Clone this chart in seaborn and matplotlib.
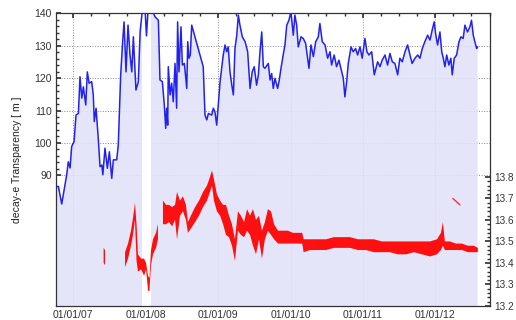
import numpy as np
import pandas as pd
import seaborn as sns
import matplotlib
matplotlib.use('Agg')
import matplotlib.pyplot as plt
import matplotlib.dates as mdates
from matplotlib.ticker import FixedLocator

#####################################################
## data
blue_dates = [
    '2006-10-11', '2006-10-19', '2006-11-05', '2006-11-17', '2006-11-30', '2006-12-08',
    '2006-12-17', '2006-12-25', '2007-01-06', '2007-01-16', '2007-01-28', '2007-02-05',
    '2007-02-14', '2007-02-22', '2007-03-06', '2007-03-14', '2007-03-23', '2007-04-05',
    '2007-04-13', '2007-04-18', '2007-04-27', '2007-05-08', '2007-05-17', '2007-05-26',
    '2007-05-31', '2007-06-11', '2007-06-23', '2007-07-03', '2007-07-15', '2007-07-23',
    '2007-08-09', '2007-08-17', '2007-08-29', '2007-09-08', '2007-09-15', '2007-09-25',
    '2007-10-05', '2007-10-15', '2007-10-24', '2007-11-01', '2007-11-14', '2007-11-26',
    '2007-12-05', '2007-12-18', '2007-12-30', '2008-01-06', '2008-01-14', '2008-02-03',
    '2008-02-18', '2008-03-06', '2008-03-14', '2008-03-26', '2008-04-05', '2008-04-12',
    '2008-04-17', '2008-04-22', '2008-04-25', '2008-05-04', '2008-05-12', '2008-05-20',
    '2008-05-29', '2008-06-06', '2008-06-11', '2008-06-18', '2008-06-28', '2008-07-05',
    '2008-07-15', '2008-07-27', '2008-08-01', '2008-08-07', '2008-08-14', '2008-08-21',
    '2008-10-18', '2008-10-27', '2008-11-05', '2008-11-13', '2008-11-30', '2008-12-08',
    '2008-12-16', '2008-12-25', '2009-01-11', '2009-01-27', '2009-02-05', '2009-02-13',
    '2009-02-21', '2009-03-02', '2009-03-11', '2009-03-19', '2009-03-27', '2009-04-05',
    '2009-04-13', '2009-04-21', '2009-05-03', '2009-05-17', '2009-05-30', '2009-06-11',
    '2009-06-22', '2009-07-02', '2009-07-14', '2009-07-23', '2009-07-31', '2009-08-09',
    '2009-08-17', '2009-08-25', '2009-09-11', '2009-09-20', '2009-09-28', '2009-10-06',
    '2009-10-15', '2009-10-28', '2009-11-04', '2009-11-14', '2009-11-25', '2009-12-04',
    '2009-12-13', '2009-12-24', '2010-01-03', '2010-01-15', '2010-01-23', '2010-02-01',
    '2010-02-09', '2010-02-23', '2010-03-06', '2010-03-18', '2010-03-28', '2010-04-04',
    '2010-04-14', '2010-04-26', '2010-05-08', '2010-05-21', '2010-05-29', '2010-06-10',
    '2010-06-24', '2010-07-07', '2010-07-19', '2010-07-27', '2010-08-09', '2010-08-21',
    '2010-09-02', '2010-09-16', '2010-09-24', '2010-10-02', '2010-10-11', '2010-10-19',
    '2010-11-02', '2010-11-13', '2010-11-25', '2010-12-05', '2010-12-17', '2010-12-28',
    '2011-01-11', '2011-01-21', '2011-01-31', '2011-02-14', '2011-02-27', '2011-03-16',
    '2011-03-28', '2011-04-08', '2011-04-22', '2011-05-05', '2011-05-17', '2011-05-29',
    '2011-06-11', '2011-06-25', '2011-07-06', '2011-07-18', '2011-08-01', '2011-08-14',
    '2011-08-26', '2011-09-06', '2011-09-20', '2011-10-04', '2011-10-15', '2011-10-27',
    '2011-11-09', '2011-11-23', '2011-12-05', '2011-12-16', '2011-12-26', '2012-01-02',
    '2012-01-12', '2012-01-24', '2012-02-02', '2012-02-10', '2012-02-18', '2012-02-27',
    '2012-03-09', '2012-03-19', '2012-03-26', '2012-04-05', '2012-04-17', '2012-04-29',
    '2012-05-09', '2012-05-20', '2012-05-29', '2012-06-11', '2012-06-23', '2012-07-01',
    '2012-07-10', '2012-07-18', '2012-07-27', '2012-08-01',
]
blue_vals = [
    86.6, 86.6, 81.2, 85.5, 90.2, 94.2,
    92.3, 98.9, 100.4, 108.6, 109.1, 120.4,
    113.8, 117.3, 111.7, 121.9, 118.4, 118.9,
    114.8, 106.6, 110.7, 101.4, 92.7, 93.2,
    90.2, 98.4, 92.2, 97.3, 89.1, 94.8,
    94.8, 99.4, 120.9, 131.2, 137.3, 121.9,
    136.3, 127.1, 121.9, 132.7, 116.3, 118.9,
    134.2, 142.0, 141.0, 133.0, 141.0, 141.0,
    138.9, 137.8, 119.4, 118.9, 111.7, 104.5,
    110.7, 105.5, 123.5, 114.8, 118.4, 112.7,
    124.5, 110.7, 137.3, 121.9, 135.8, 124.0,
    124.5, 116.8, 131.2, 126.1, 127.1, 136.3,
    123.5, 108.6, 107.1, 109.1, 108.6, 110.7,
    109.6, 105.5, 118.9, 127.1, 130.2, 128.1,
    129.6, 121.9, 117.8, 114.8, 129.1, 133.2,
    139.4, 136.3, 132.7, 131.2, 128.1, 116.8,
    121.9, 123.5, 117.8, 121.0, 128.1, 134.2,
    123.5, 123.0, 124.5, 119.4, 121.4, 116.8,
    119.9, 116.8, 118.9, 123.0, 127.1, 130.2,
    136.3, 137.8, 140.5, 133.2, 139.4, 136.3,
    129.6, 132.7, 132.2, 130.7, 126.1, 123.0,
    130.2, 126.6, 131.2, 132.7, 136.8, 131.2,
    130.2, 126.1, 128.1, 124.0, 127.1, 123.5,
    125.5, 121.9, 119.9, 114.2, 118.9, 124.5,
    129.6, 128.1, 129.1, 127.1, 129.6, 126.1,
    132.2, 128.1, 127.1, 128.1, 121.0, 125.0,
    123.5, 125.5, 127.1, 124.0, 127.6, 125.0,
    124.5, 121.0, 126.1, 125.0, 128.1, 130.2,
    127.1, 124.5, 126.1, 127.1, 126.1, 129.1,
    131.2, 133.2, 131.7, 134.8, 137.3, 133.7,
    130.2, 134.2, 128.1, 126.1, 123.5, 127.1,
    124.0, 126.1, 121.0, 126.1, 127.1, 131.2,
    132.7, 132.2, 136.3, 134.2, 135.8, 137.8,
    133.2, 131.2, 129.1, 129.6,
]

# red band (right axis): lower and upper edge, None = break in the record
red_dates = [
    '2007-06-04', '2007-06-11', '2007-06-12',
    '2007-09-20', '2007-10-05', '2007-10-20', '2007-10-30', '2007-11-09', '2007-11-17',
    '2007-11-24', '2007-12-10', '2007-12-25', '2008-01-04', '2008-01-14', '2008-01-21',
    '2008-01-29', '2008-02-08', '2008-02-23', '2008-03-04', '2008-03-05',
    '2008-03-29', '2008-04-14', '2008-04-29', '2008-05-14', '2008-05-29', '2008-06-08',
    '2008-06-23', '2008-07-08', '2008-07-23', '2008-08-02', '2008-08-17', '2008-09-07',
    '2008-09-27', '2008-10-17', '2008-11-06', '2008-11-21', '2008-12-01', '2008-12-11',
    '2008-12-26', '2009-01-11', '2009-01-26', '2009-02-10', '2009-02-25', '2009-03-12',
    '2009-03-27', '2009-04-11', '2009-04-26', '2009-05-12', '2009-05-27', '2009-06-11',
    '2009-06-26', '2009-07-11', '2009-07-26', '2009-08-10', '2009-08-25', '2009-09-09',
    '2009-09-25', '2009-10-10', '2009-10-30', '2009-11-24', '2009-12-19', '2010-01-13',
    '2010-02-08', '2010-03-01', '2010-03-08', '2010-04-09', '2010-05-19', '2010-06-29',
    '2010-08-08', '2010-09-17', '2010-10-28', '2010-12-07', '2011-01-16', '2011-02-25',
    '2011-04-07', '2011-05-17', '2011-06-26', '2011-08-06', '2011-09-15', '2011-10-25',
    '2011-12-05', '2012-01-09', '2012-01-29', '2012-02-08', '2012-02-18', '2012-03-14',
    '2012-04-14', '2012-05-14', '2012-06-13', '2012-07-13', '2012-08-02',
]
red_lo = [
    13.40, 13.39, None,
    13.38, 13.42, 13.48, 13.53, 13.60, 13.41,
    13.36, 13.37, 13.34, 13.37, 13.27, 13.27,
    13.39, 13.44, 13.47, 13.51, None,
    13.58, 13.58, 13.59, 13.57, 13.60, 13.51,
    13.62, 13.64, 13.60, 13.54, 13.56, 13.59,
    13.62, 13.66, 13.69, 13.73, 13.76, 13.69,
    13.64, 13.62, 13.58, 13.53, 13.52, 13.48,
    13.41, 13.55, 13.53, 13.52, 13.55, 13.53,
    13.48, 13.44, 13.51, 13.42, 13.51, 13.55,
    13.53, 13.51, 13.49, 13.49, 13.49, 13.49,
    13.49, 13.49, 13.45, 13.46, 13.46, 13.46,
    13.47, 13.47, 13.47, 13.46, 13.46, 13.45,
    13.45, 13.45, 13.44, 13.44, 13.45, 13.44,
    13.43, 13.44, 13.46, 13.48, 13.46, 13.46,
    13.46, 13.46, 13.45, 13.45, 13.45,
]
red_hi = [
    13.47, 13.46, None,
    13.45, 13.49, 13.55, 13.61, 13.68, 13.58,
    13.44, 13.42, 13.42, 13.40, 13.34, 13.33,
    13.46, 13.51, 13.54, 13.58, None,
    13.69, 13.67, 13.67, 13.66, 13.67, 13.73,
    13.69, 13.71, 13.67, 13.59, 13.62, 13.66,
    13.69, 13.73, 13.76, 13.80, 13.83, 13.79,
    13.72, 13.69, 13.67, 13.67, 13.62, 13.58,
    13.51, 13.64, 13.62, 13.59, 13.65, 13.62,
    13.65, 13.60, 13.62, 13.55, 13.59, 13.65,
    13.64, 13.58, 13.55, 13.55, 13.55, 13.54,
    13.54, 13.54, 13.51, 13.51, 13.51, 13.51,
    13.52, 13.52, 13.52, 13.51, 13.51, 13.51,
    13.50, 13.50, 13.50, 13.50, 13.50, 13.50,
    13.50, 13.51, 13.54, 13.59, 13.50, 13.50,
    13.49, 13.49, 13.48, 13.48, 13.47,
]

# short isolated red stroke in 2012
red_extra_dates = ['2012-03-29', '2012-05-04']
red_extra_vals = [13.70, 13.67]

gap_start, gap_end = '2007-12-13', '2008-01-30'

left_ticks = [90, 100, 110, 120, 130, 140]
right_ticks = [13.2, 13.3, 13.4, 13.5, 13.6, 13.7, 13.8]
#####################################################

blue = pd.DataFrame({'date': pd.to_datetime(blue_dates), 'val': blue_vals})
red = pd.DataFrame({'date': pd.to_datetime(red_dates),
                    'lo': pd.to_numeric(pd.Series(red_lo, dtype=object), errors='coerce'),
                    'hi': pd.to_numeric(pd.Series(red_hi, dtype=object), errors='coerce')})

sns.set_theme(style='white')
plt.rcParams['font.family'] = ['Liberation Sans', 'DejaVu Sans']

fig = plt.figure(figsize=(5.16, 3.2), dpi=100)
ax = fig.add_axes([0.1085, 0.044, 0.841, 0.915])

# grid first, then a slightly see-through fill so it shows faintly underneath
ax.grid(True, which='major', ls=':', color='#8a8a8a', lw=0.7)
ax.set_axisbelow(True)
fill_col = '#e2e2fa'
ax.fill_between(blue['date'], blue['val'], 0, color=fill_col, alpha=0.88, lw=0, zorder=1)
ax.axvspan(pd.Timestamp(gap_start), pd.Timestamp(gap_end), color='white', lw=0, zorder=1.5)
sns.lineplot(data=blue, x='date', y='val', ax=ax, color='#2222ee', lw=1.1, zorder=3)

ax.set_ylim(49.8, 140)
ax.set_xlim(pd.Timestamp('2006-10-07'), pd.Timestamp('2012-10-02'))

ax.xaxis.set_major_locator(mdates.YearLocator())
ax.xaxis.set_minor_locator(mdates.MonthLocator(bymonth=[4, 7, 10]))
ax.xaxis.set_major_formatter(mdates.DateFormatter('%d/%m/%y'))
ax.yaxis.set_major_locator(FixedLocator(left_ticks))
ax.yaxis.set_minor_locator(FixedLocator(np.arange(90, 141, 2)))

ax.tick_params(which='both', direction='in', top=True, right=True,
               labelsize=7.5, labelcolor='#333333', color='#333333', pad=3)
ax.tick_params(which='major', length=3.5)
ax.tick_params(which='minor', length=2)
ax.set_xlabel('')
ax.set_ylabel('decay-e Transparency [ m ]', fontsize=7.5, color='#222222', labelpad=9)
for s in ax.spines.values():
    s.set_color('#333333')
    s.set_linewidth(0.9)

ax2 = ax.twinx()
ax2.fill_between(red['date'], red['lo'], red['hi'], color='#ff1010', lw=0, zorder=4)
ax2.plot(pd.to_datetime(red_extra_dates), red_extra_vals, color='#ff3030', lw=1.0)
ax2.set_ylim(13.2, 14.562)
ax2.yaxis.set_major_locator(FixedLocator(right_ticks))
ax2.yaxis.set_minor_locator(FixedLocator(np.arange(13.2, 13.81, 0.02)))
ax2.tick_params(which='both', direction='in', labelsize=7.2, labelcolor='#333333',
                color='#333333', pad=3)
ax2.tick_params(which='major', length=3.5)
ax2.tick_params(which='minor', length=2)
for s in ax2.spines.values():
    s.set_visible(False)

fig.savefig('out.png', dpi=100)
